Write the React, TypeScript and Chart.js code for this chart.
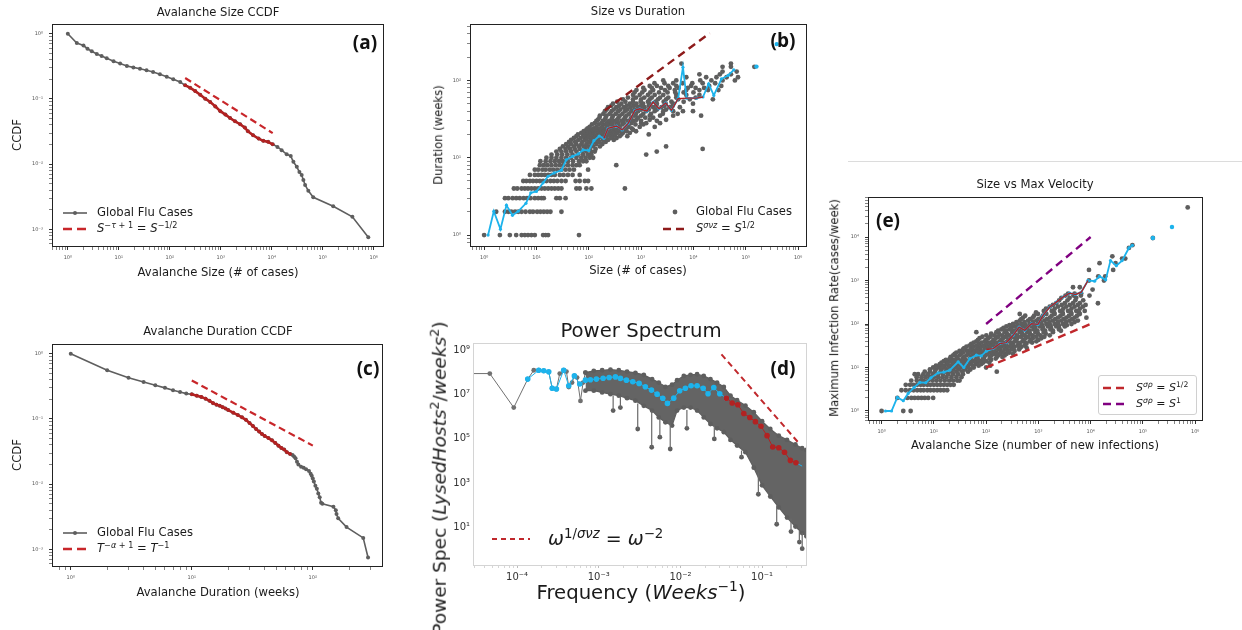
import React, { useEffect, useRef } from "react";
import { Chart, registerables } from "chart.js";

Chart.register(...registerables);

const FONT = "'DejaVu Sans', 'Liberation Sans', sans-serif";
const TAGFONT = "'Open Sans', 'Liberation Sans', sans-serif";
const GRAY = "#5e5e5e";
const BLUE = "#1db3ec";
const RED = "#b22222";
const DARKRED = "#8e1b1b";
const PURPLE = "#800080";

// ---------------- (a) Avalanche Size CCDF ----------------
const aHeadSize = [1, 1.5, 2.03, 2.43, 2.95, 3.7, 4.6, 5.8, 7.9, 10.6, 14.4, 19.3, 26, 35, 47, 64, 87, 117, 160];
const aHeadCcdf = [1, 0.72, 0.66, 0.59, 0.54, 0.49, 0.455, 0.42, 0.38, 0.35, 0.32, 0.305, 0.291, 0.275, 0.259, 0.239, 0.22, 0.2, 0.182];
const aFitSize = [200, 250, 315, 395, 495, 620, 780, 980, 1230, 1520, 1900, 2400, 2960, 3400, 4300, 5500, 6800, 8500, 10400];
const aFitCcdf = [0.162, 0.149, 0.132, 0.116, 0.101, 0.09, 0.077, 0.065, 0.0576, 0.051, 0.0455, 0.041, 0.0364, 0.032, 0.0278, 0.0247, 0.0228, 0.022, 0.0202];
const aTailSize = [12900, 15600, 19600, 23500, 26500, 30900, 34800, 38500, 41600, 45000, 52000, 65000, 160000, 380000, 780000];
const aTailCcdf = [0.0184, 0.0164, 0.0142, 0.0133, 0.0109, 0.0091, 0.0076, 0.0068, 0.0057, 0.0048, 0.0039, 0.0031, 0.00227, 0.00156, 0.00076];
const aGuideSize = [200, 10400];
const aGuideCcdf = [0.21, 0.03];

// ---------------- (b) Size vs Duration ----------------
const bRowDur = [1, 2, 3, 4, 5, 6, 7, 8, 9, 10, 11, 12, 13, 14, 15, 16, 17, 18, 19, 20, 21, 22, 23, 24, 25, 27, 28, 30, 31, 33, 35, 37, 40, 42, 45, 47, 50, 53, 57, 60, 65, 70, 75, 80, 85, 92, 100, 110, 120, 130, 150, 165];
const bRowSizes = [
  [1, 2, 3.1, 4.1, 5.2, 6, 6.9, 8, 9.3, 13.4, 15, 16.7, 65],
  [1.7, 2.5, 2.9, 3.3, 3.9, 4.5, 5.2, 6.2, 7.5, 8.6, 10.3, 11.9, 13.8, 16, 18.5, 30],
  [2.5, 2.9, 3.5, 4.1, 4.8, 5.7, 6.6, 7.7, 9.3, 10.8, 12.5, 13.8, 24, 28, 36],
  [3.7, 4.3, 5.2, 6, 6.9, 8, 9.3, 10.8, 12.5, 14.4, 16.7, 19.4, 22.4, 26, 30, 58, 67, 90, 112, 490],
  [5.6, 6.4, 7.5, 8.6, 10, 11.6, 13.4, 15.5, 18.5, 21.5, 25, 30, 36, 56, 67, 84, 97],
  [7.5, 9.3, 10.8, 12.5, 14.4, 16.7, 19.4, 22.4, 28, 33, 40, 49, 67],
  [9.3, 10.8, 13, 15, 18, 21, 25, 30, 36, 43, 52, 97],
  [11.6, 13.8, 16.2, 19.4, 23.4, 28, 33, 40, 49, 58, 67, 335],
  [11.9, 15, 18.5, 22.4, 27, 32, 40, 50, 65, 78, 90],
  [15.5, 19.4, 24, 30, 37, 46, 58, 72, 87, 104, 121],
  [19.4, 25, 31, 39, 49, 63, 78, 97, 112, 1250],
  [24, 30, 37, 46, 58, 76, 90, 112, 130, 1990],
  [28, 36, 44, 54, 67, 84, 104, 135, 15000],
  [32, 40, 52, 65, 80, 97, 121, 163, 3000],
  [37, 46, 58, 72, 90, 112, 140, 182],
  [42, 55, 75, 98, 125, 160, 210],
  [46, 63, 84, 108, 140, 188, 233, 300],
  [52, 70, 92, 120, 155, 200, 260, 340],
  [58, 78, 101, 130, 175, 218, 290, 390, 545],
  [62, 85, 110, 145, 190, 245, 320, 420, 1400],
  [72, 93, 121, 163, 203, 272, 350, 450, 610],
  [80, 105, 135, 180, 230, 300, 400, 530, 800],
  [90, 117, 150, 194, 252, 335, 465, 700],
  [95, 125, 165, 215, 280, 370, 500, 660],
  [104, 140, 182, 228, 290, 390, 570, 940, 1820],
  [115, 155, 205, 265, 340, 440, 580, 780, 1100],
  [130, 175, 225, 283, 364, 465, 650, 1000, 1250, 2300],
  [140, 185, 245, 320, 420, 550, 720, 1000, 2000],
  [150, 203, 272, 350, 465, 625, 815, 1460, 3000],
  [160, 210, 280, 370, 490, 650, 880, 1200, 1700],
  [163, 218, 290, 390, 525, 760, 1000, 1460, 2300, 4100, 14000],
  [190, 250, 330, 440, 590, 800, 1100, 1550, 2600, 5000],
  [203, 272, 364, 490, 650, 875, 1250, 1820, 2650, 4100, 6300, 9800],
  [220, 300, 400, 540, 740, 1000, 1400, 2000, 3000],
  [233, 335, 465, 625, 875, 1160, 1700, 2450, 3500, 5500],
  [270, 380, 530, 730, 1000, 1400, 1950, 2800, 4000],
  [290, 420, 610, 815, 1090, 1460, 2000, 2950, 4100, 9800],
  [350, 500, 700, 980, 1350, 1900, 2700, 3800, 6500],
  [450, 700, 1000, 1460, 2100, 3000, 5100, 8500, 23500],
  [560, 800, 1150, 1600, 2300, 3300, 4700, 11000],
  [700, 940, 1350, 1820, 2650, 4700, 7300, 13000],
  [750, 1050, 1500, 2200, 3200, 4500, 6500, 10000],
  [815, 1160, 1700, 2850, 4400, 7300, 13000, 19000, 30000],
  [1100, 1600, 2400, 3500, 5200, 7800, 11000, 16000],
  [1460, 2000, 3300, 4700, 9000, 20000, 34000],
  [1800, 2800, 4100, 6200, 9500, 15000, 26000],
  [2650, 4700, 13500, 22000, 36000, 62000],
  [7300, 17500, 27500, 43000, 71000],
  [13000, 32000, 52000],
  [36000, 67000],
  [36000, 52000, 146000],
  [5900, 52000],
];
const bBinSize = [1.19, 1.53, 2.05, 2.67, 3.48, 4.47, 6.3, 7.8, 10, 13.4, 16.7, 21.8, 30, 37, 49, 63, 78, 100, 125, 158, 194, 234, 338, 435, 565, 760, 940, 1290, 1700, 2200, 2950, 3800, 5100, 6300, 7400, 11500, 15200, 19500, 24500, 34300, 46000, 59000];
const bBinDur = [1, 2.03, 1.19, 2.43, 1.8, 2.03, 2.57, 3.52, 3.66, 4.73, 5.76, 6.35, 6.9, 9.4, 10.4, 11.2, 12.6, 12.4, 16.6, 19.1, 17.8, 24, 25.7, 22.9, 27.8, 41, 43, 40, 52.6, 43, 51, 41, 58, 148, 59, 59, 61, 90.6, 64, 105, 116, 137];
const bFitSize = [194, 234, 338, 435, 565, 760, 940, 1290, 1700, 2200, 2950, 3800, 5100, 7400, 11500, 15200];
const bFitDur = [17.8, 24, 25.7, 22.9, 27.8, 41, 43, 40, 52.6, 43, 51, 41, 58, 59, 59, 61];
const bLoneSize = [160000, 390000];
const bLoneDur = [151, 295];
const bGuideSize = [203, 20500];
const bGuideDur = [41, 408];

// ---------------- (c) Avalanche Duration CCDF ----------------
const cHeadDur = [1, 2, 3, 4, 5, 6, 7, 8, 9];
const cHeadCcdf = [1, 0.56, 0.43, 0.37, 0.33, 0.3, 0.275, 0.26, 0.245];
const cFitDur = [10, 11, 12, 13, 14, 15, 16, 17, 18, 19, 20, 22, 24, 26, 28, 30, 32, 34, 36, 38, 40, 43, 46, 49, 52, 55, 58, 61, 65];
const cFitCcdf = [0.24, 0.228, 0.218, 0.205, 0.19, 0.175, 0.166, 0.16, 0.152, 0.145, 0.137, 0.125, 0.115, 0.106, 0.097, 0.087, 0.078, 0.07, 0.064, 0.059, 0.055, 0.051, 0.047, 0.043, 0.039, 0.036, 0.034, 0.031, 0.029];
const cTailDur = [68, 70, 72, 74, 76, 80, 84, 88, 93, 96, 98, 100, 102, 105, 108, 111, 114, 117, 120, 148, 155, 157, 162, 190, 261, 286];
const cTailCcdf = [0.028, 0.0265, 0.025, 0.022, 0.02, 0.0185, 0.0178, 0.017, 0.016, 0.0145, 0.0135, 0.0122, 0.011, 0.0095, 0.0085, 0.0072, 0.0063, 0.0052, 0.005, 0.0045, 0.004, 0.0035, 0.003, 0.0022, 0.0015, 0.00075];
const cGuideDur = [10, 100];
const cGuideCcdf = [0.39, 0.039];

// ---------------- (d) Power Spectrum ----------------
const dSparseFreq = [2.5e-5, 4.63e-5, 9.1e-5, 1.35e-4, 1.6e-4, 1.84e-4, 2.12e-4, 2.44e-4, 2.69e-4, 3.03e-4, 3.33e-4, 3.72e-4, 4.02e-4, 4.29e-4, 4.71e-4, 5.03e-4, 5.43e-4, 5.97e-4, 6.43e-4, 6.87e-4];
const dSparsePow = [8.9e7, 8.9e7, 2.6e6, 5e7, 1.26e8, 1.26e8, 1.17e8, 1.07e8, 1.96e7, 1.78e7, 8.9e7, 1.26e8, 1.1e8, 2.2e7, 3.5e7, 7e7, 5.9e7, 5.2e6, 3.5e7, 9.9e7];
const dBandFreq = [6.87e-4, 8.69e-4, 1.1e-3, 1.39e-3, 1.76e-3, 2.22e-3, 2.81e-3, 3.56e-3, 4.5e-3, 5.43e-3, 6.55e-3, 7.9e-3, 9.1e-3, 1.1e-2, 1.33e-2, 1.6e-2, 1.93e-2, 2.33e-2, 2.81e-2, 3.4e-2, 4.1e-2, 4.94e-2, 6.25e-2, 7.91e-2, 0.1, 0.126, 0.16, 0.202, 0.256, 0.309, 0.349];
const dBandHigh = [9.9e7, 1.18e8, 1.26e8, 1.35e8, 1.26e8, 1.1e8, 9.6e7, 7.8e7, 5e7, 3.5e7, 2.25e7, 2.8e7, 4.5e7, 7e7, 7.8e7, 8.3e7, 7e7, 5e7, 3.5e7, 2.2e7, 9e6, 5.6e6, 3.2e6, 1.6e6, 6.3e5, 2.8e5, 1.4e5, 9e4, 5.6e4, 3.8e4, 3.2e4];
const dBandLow = [1.5e7, 1.5e7, 1.25e7, 1.05e7, 8.9e6, 6.9e6, 5.3e6, 3.1e6, 1.9e6, 9.3e5, 5.6e5, 4e5, 1.9e6, 2.6e6, 2.6e6, 1.9e6, 9.3e5, 4.7e5, 3e5, 2e5, 9e4, 5e4, 2.5e4, 5e3, 800, 250, 80, 28, 11, 5.6, 4];
const dSpikeFreq = [1.5e-3, 1.84e-3, 3.0e-3, 4.45e-3, 5.6e-3, 7.5e-3, 1.2e-2, 2.6e-2, 5.6e-2, 9.0e-2, 0.151, 0.226, 0.286, 0.31];
const dSpikeBase = [9e6, 8e6, 4e6, 1.8e6, 8e5, 5e5, 2e6, 4e5, 3e4, 3e3, 100, 25, 7, 5.5];
const dSpikeTip = [1.9e6, 2.6e6, 2.8e5, 4.2e4, 1.2e5, 3.5e4, 3e5, 1e5, 1.5e4, 316, 14, 6.5, 2.2, 1.1];
const dBinFreq = [1.35e-4, 1.84e-4, 2.12e-4, 2.44e-4, 2.69e-4, 3.03e-4, 3.72e-4, 4.29e-4, 5.03e-4, 5.85e-4, 6.87e-4, 7.9e-4, 9.35e-4, 1.13e-3, 1.34e-3, 1.6e-3, 1.84e-3, 2.18e-3, 2.61e-3, 3.12e-3, 3.72e-3, 4.42e-3, 5.18e-3, 6.08e-3, 6.93e-3, 8.28e-3, 9.8e-3, 1.15e-2, 1.35e-2, 1.6e-2, 1.9e-2, 2.18e-2, 2.56e-2, 3.03e-2, 3.66e-2];
const dBinPow = [5e7, 1.26e8, 1.2e8, 1.07e8, 1.95e7, 1.78e7, 1.26e8, 2.5e7, 7e7, 3e7, 4.5e7, 4.7e7, 5e7, 5.5e7, 5.9e7, 6.3e7, 5.4e7, 4.5e7, 3.8e7, 3.2e7, 2.25e7, 1.6e7, 1.05e7, 6.8e6, 4e6, 6.9e6, 1.5e7, 1.95e7, 2.5e7, 2.5e7, 1.95e7, 1.1e7, 2.1e7, 1.1e7, 6.9e6];
const dFitFreq = [3.66e-2, 4.3e-2, 5.04e-2, 5.97e-2, 7.07e-2, 8.28e-2, 9.7e-2, 0.115, 0.135, 0.16, 0.188, 0.222, 0.26];
const dFitPow = [6.9e6, 4.2e6, 3.5e6, 1.4e6, 9.3e5, 6e5, 3.7e5, 1.4e5, 4.3e4, 4e4, 2.5e4, 1.07e4, 8.3e3];
const dEndFreq = [0.26, 0.309];
const dEndPow = [8.3e3, 5.9e3];
const dGuideFreq = [3.18e-2, 0.281];
const dGuidePow = [6.6e8, 6.5e4];

// ---------------- (e) Size vs Max Velocity ----------------
const eRowRate = [1, 2, 3, 4, 5, 6, 7, 8, 9, 10, 11, 12, 13, 14, 15, 16, 17.5, 19, 20.5, 22, 24, 26, 28, 30, 32, 35, 37.5, 40, 43, 47, 51, 55, 60, 65, 70, 75, 81, 88, 94, 100, 110, 120, 130, 140, 155, 170, 185, 200, 225, 250, 275, 300, 350, 400, 450, 500, 620, 700, 1000, 1250, 1750, 2500, 3200, 3600, 5600, 6500, 9500, 48000];
const eRowSizes = [
  [1, 2.6, 3.6],
  [2, 3.1, 3.7, 4.3, 5, 5.8, 6.7, 7.8, 9.7],
  [2.4, 2.9, 3.5, 4.1, 4.8, 5.6, 6.4, 7.5, 8.6, 10, 11.6, 13.4, 15.5, 18],
  [2.9, 3.5, 4.1, 4.8, 5.6, 6.4, 7.5, 8.6, 10, 11.6, 13.4, 15.5, 18, 20.8, 24],
  [3.7, 4.7, 5.6, 6.4, 7.8, 9.4, 11.2, 13.4, 16.2, 19.6, 23.4, 28, 31],
  [4.7, 5.8, 7, 8.4, 10, 12.1, 14.6, 17.4, 21.7, 27, 33.7],
  [4.3, 5, 6.3, 7.8, 9.7, 12.1, 15, 18.8, 23.4, 29.2, 36],
  [6.7, 8.4, 10.4, 13.4, 16.9, 21.7, 27, 35, 45, 160],
  [8.4, 10.9, 14, 18, 23.4, 30.4, 39, 50],
  [9.7, 12.6, 16.2, 20.8, 27, 35, 45, 58, 100],
  [11, 15, 19.5, 25, 32, 42, 55, 72, 120],
  [13, 17.4, 22.7, 29, 37.4, 48.7, 63, 81],
  [14, 18.5, 24, 31, 40, 52, 68, 88, 115],
  [15.5, 20.2, 27, 35, 47, 61, 78, 101],
  [17, 23, 30, 40, 53, 70, 92, 125],
  [20.2, 27, 36, 48.7, 65, 87, 117, 153],
  [21, 28, 38, 51, 68, 91, 120, 160, 205],
  [23.4, 31.4, 42, 56, 73, 98, 126, 170, 226],
  [25, 33, 45, 60, 80, 105, 140, 185, 245, 330],
  [27, 36, 50, 67, 90, 121, 157, 210, 280],
  [31, 43, 58, 79, 106, 142, 190, 255, 350],
  [36, 50, 67, 94, 126, 170, 226, 302, 428],
  [38, 53, 72, 98, 132, 178, 238, 320, 440, 600],
  [42, 58, 81, 109, 146, 196, 262, 352, 472],
  [48, 66, 90, 122, 165, 222, 300, 405, 545],
  [52, 73, 101, 136, 182, 244, 328, 440, 590],
  [58, 82, 114, 158, 218, 300, 410, 560, 760],
  [65, 94, 132, 182, 253, 352, 494, 680, 915],
  [70, 100, 140, 195, 270, 372, 520, 720, 1000],
  [75, 109, 153, 210, 292, 394, 570, 780, 1140],
  [85, 122, 172, 240, 335, 465, 650, 920, 1300],
  [101, 146, 204, 280, 390, 550, 780, 1100, 1650],
  [125, 178, 250, 350, 490, 690, 980, 1380],
  [65, 157, 226, 316, 440, 610, 880, 1270, 1900],
  [170, 240, 340, 480, 680, 960, 1350, 1900, 2700],
  [196, 280, 394, 570, 810, 1200, 1700, 2480],
  [215, 300, 430, 610, 870, 1230, 1750, 2500],
  [244, 352, 510, 735, 1060, 1530, 2200, 3200],
  [280, 400, 570, 820, 1180, 1700, 2450, 3500],
  [328, 472, 680, 980, 1420, 2050, 2950, 4300],
  [380, 540, 780, 1120, 1620, 2350, 3400, 4900],
  [440, 635, 915, 1320, 1900, 2750, 3960, 5700],
  [470, 690, 1000, 1450, 2100, 3050, 4400],
  [510, 780, 1140, 1650, 2380, 3420, 4930, 8300],
  [560, 830, 1220, 1800, 2650, 3850, 5500],
  [440, 980, 1420, 2050, 2950, 4300, 6200],
  [900, 1350, 2000, 2900, 4200, 6000],
  [1270, 1800, 2600, 3700, 5300, 7700],
  [1400, 2050, 3000, 4300, 6200],
  [1650, 2380, 3420, 4930, 7100],
  [1900, 2800, 4000, 5700, 8000],
  [2200, 3200, 4600, 6200, 13800],
  [2500, 3600, 5100, 7200],
  [2750, 3960, 5300],
  [3300, 4700, 6500, 9500],
  [3700, 4930, 6600],
  [10900],
  [4600, 6200],
  [9300, 18000],
  [14000, 19000],
  [9300, 27000],
  [14800, 30000],
  [40000, 46000],
  [26000],
  [54000],
  [63000],
  [155000],
  [720000],
];
const eBinSize = [1.19, 1.55, 2.0, 2.6, 3.23, 4.2, 5.4, 7.0, 8.8, 12.1, 15.5, 20.2, 29.2, 37.4, 48.7, 65, 81, 101, 136, 182, 244, 328, 428, 549, 735, 980, 1230, 1650, 2210, 2950, 3960, 5150, 6630, 8900, 11900, 14800, 19400, 24000, 31000, 40000, 54000, 63000];
const eBinRate = [1, 1, 2.06, 1.72, 2.54, 3.48, 4.53, 4.46, 5.8, 7.55, 7.8, 8.7, 13.5, 10, 16, 19.2, 18.5, 23.7, 27.2, 35.4, 37.4, 55, 85, 71.6, 101, 98, 158, 246, 318, 415, 512, 478, 540, 1000, 966, 1240, 1036, 2870, 2190, 2870, 5600, 6450];
const eFitSize = [101, 136, 182, 244, 328, 428, 549, 735, 980, 1230, 1650, 2210, 2950, 3960, 5150, 6630, 8900];
const eFitRate = [25.9, 27.2, 35.4, 37.4, 55, 85, 71.6, 101, 98, 158, 246, 318, 415, 512, 478, 540, 1000];
const eLoneSize = [155000, 360000];
const eLoneRate = [9500, 17000];
const eHalfSize = [100, 10000];
const eHalfRate = [10, 100];
const eOneSize = [100, 10000];
const eOneRate = [100, 10000];

// ---------------- helpers ----------------
const PADL = 46, PADT = 8, PADR = 8, PADB = 24;

const SUPS: Record<string, string> = { "0": "⁰", "1": "¹", "2": "²", "3": "³", "4": "⁴", "5": "⁵", "6": "⁶", "7": "⁷", "8": "⁸", "9": "⁹", "-": "⁻" };
const supStr = (n: number) => String(n).split("").map((c) => SUPS[c] || c).join("");

const pts = (xs: number[], ys: number[]) => xs.map((x, i) => ({ x, y: ys[i] }));
const rows = (ys: number[], xss: number[][]) => ys.flatMap((y, i) => (xss[i] || []).map((x) => ({ x, y })));

function logTicks(min: number, max: number, minors: boolean) {
  const out: any[] = [];
  for (let e = Math.floor(Math.log10(min)); e <= Math.ceil(Math.log10(max)); e++) {
    for (let m = 1; m <= 9; m++) {
      if (m > 1 && !minors) break;
      const v = m * Math.pow(10, e);
      if (v >= min && v <= max) out.push({ value: v, major: m === 1 });
    }
  }
  return out;
}

type AxisStyle = { size: number; color: string; tickLen: number; pad: number; minors: boolean; show?: (e: number) => boolean; tickColor: string };

function axis(kind: "x" | "y", range: number[], st: AxisStyle) {
  const list = logTicks(range[0], range[1], st.minors);
  return {
    type: "logarithmic",
    position: kind === "x" ? "bottom" : "left",
    min: range[0],
    max: range[1],
    afterBuildTicks: (s: any) => {
      s.ticks = list.map((t) => ({ ...t }));
    },
    afterFit: (s: any) => {
      if (kind === "x") s.height = PADB;
      else s.width = PADL;
    },
    ticks: {
      autoSkip: false,
      maxRotation: 0,
      minRotation: 0,
      padding: st.pad,
      color: st.color,
      font: { family: FONT, size: st.size },
      callback: (v: number, i: number, ts: any[]) => {
        if (!ts[i] || !ts[i].major) return "";
        const e = Math.round(Math.log10(v));
        if (st.show && !st.show(e)) return "";
        return "10" + supStr(e);
      },
    },
    grid: {
      display: true,
      drawOnChartArea: false,
      drawTicks: true,
      tickLength: st.tickLen,
      tickColor: st.tickColor,
      tickWidth: (c: any) => (c.tick && c.tick.major ? 1 : 0.6),
    },
    border: { display: false },
  };
}

const framePlugin = (color: string) => ({
  id: "frame",
  afterDatasetsDraw(chart: any) {
    const { ctx, chartArea: a } = chart;
    ctx.save();
    ctx.strokeStyle = color;
    ctx.lineWidth = 1;
    ctx.strokeRect(Math.round(a.left) + 0.5, Math.round(a.top) + 0.5, Math.round(a.right - a.left) - 1, Math.round(a.bottom - a.top) - 1);
    ctx.restore();
  },
});

const lineDs = (data: any[], color: string, lw: number, r: number, extra: any = {}) => ({
  data, showLine: true, borderColor: color, backgroundColor: color, borderWidth: lw,
  pointRadius: r, pointHoverRadius: r, pointBorderWidth: 0, pointBackgroundColor: color, tension: 0, fill: false, ...extra,
});
const dotDs = (data: any[], color: string, r: number) => ({
  data, showLine: false, borderColor: color, backgroundColor: color, pointRadius: r, pointHoverRadius: r,
  pointBorderWidth: 0, pointBackgroundColor: color, fill: false,
});
const dashDs = (data: any[], color: string, lw: number, dash: number[]) => ({
  data, showLine: true, borderColor: color, backgroundColor: color, borderWidth: lw, borderDash: dash, pointRadius: 0, fill: false, tension: 0,
});

const smallAxis: AxisStyle = { size: 5, color: "#555", tickLen: 3, pad: 5, minors: true, tickColor: "#333" };

function makeConfig(datasets: any[], xr: number[], yr: number[], xs: AxisStyle, ys: AxisStyle, frame: string) {
  return {
    type: "line",
    data: { datasets },
    options: {
      animation: false,
      responsive: false,
      devicePixelRatio: 1,
      events: [],
      layout: { padding: { top: PADT, right: PADR, left: 0, bottom: 0 } },
      plugins: { legend: { display: false }, tooltip: { enabled: false }, title: { display: false } },
      scales: { x: axis("x", xr, xs), y: axis("y", yr, ys) },
    },
    plugins: [framePlugin(frame)],
  };
}

type Box = { l: number; t: number; r: number; b: number };

function ChartBox({ box, make }: { box: Box; make: () => any }) {
  const ref = useRef<HTMLCanvasElement>(null);
  const w = box.r - box.l + PADL + PADR;
  const h = box.b - box.t + PADT + PADB;
  useEffect(() => {
    const chart = new Chart(ref.current as HTMLCanvasElement, make());
    return () => chart.destroy();
  }, []);
  return (
    <canvas
      ref={ref}
      width={w}
      height={h}
      style={{ position: "absolute", left: box.l - PADL, top: box.t - PADT, width: w, height: h }}
    />
  );
}

function T({ x, y, s, children, rot, left, bold, family, color }: any) {
  const tr = left ? "translate(0,-50%)" : "translate(-50%,-50%)";
  return (
    <div
      style={{
        position: "absolute", left: x, top: y, transform: tr + (rot ? " rotate(-90deg)" : ""),
        fontSize: s, fontFamily: family || FONT, fontWeight: bold ? 700 : 400, whiteSpace: "nowrap",
        lineHeight: 1, color: color || "#1a1a1a",
      }}
    >
      {children}
    </div>
  );
}

const Sup = ({ children }: any) => (
  <span style={{ fontSize: "0.7em", position: "relative", top: "-0.55em" }}>{children}</span>
);

function Sample({ x, y, w, color, lw, dash, dot, noLine }: any) {
  return (
    <svg style={{ position: "absolute", left: x, top: y - 6, overflow: "visible" }} width={w} height={12}>
      {!noLine && <line x1={0} y1={6} x2={w} y2={6} stroke={color} strokeWidth={lw} strokeDasharray={dash} />}
      {dot ? <circle cx={w / 2} cy={6} r={dot} fill={color} /> : null}
    </svg>
  );
}

// ---------------- panels ----------------
const A_BOX = { l: 52, t: 23, r: 384, b: 247 };
const B_BOX = { l: 470, t: 23, r: 807, b: 247 };
const C_BOX = { l: 52, t: 343, r: 383, b: 567 };
const D_BOX = { l: 473, t: 342, r: 807, b: 566 };
const E_BOX = { l: 868, t: 196, r: 1203, b: 421 };

const makeA = () =>
  makeConfig(
    [
      dashDs(pts(aGuideSize, aGuideCcdf), "#c8262a", 2.2, [7, 4]),
      lineDs(pts(aFitSize, aFitCcdf), RED, 2.6, 1.8),
      lineDs(pts([...aHeadSize, ...aFitSize, ...aTailSize], [...aHeadCcdf, ...aFitCcdf, ...aTailCcdf]), GRAY, 1.6, 2),
    ],
    [Math.pow(10, -0.31), Math.pow(10, 6.2)],
    [Math.pow(10, -3.27), Math.pow(10, 0.15)],
    smallAxis,
    { ...smallAxis, pad: 6 },
    "#222"
  );

const makeB = () =>
  makeConfig(
    [
      dashDs(pts(bGuideSize, bGuideDur), DARKRED, 2.4, [8, 5]),
      lineDs(pts(bFitSize, bFitDur), RED, 1.4, 0),
      lineDs(pts(bBinSize, bBinDur), BLUE, 1.8, 1.6),
      dotDs(pts(bLoneSize, bLoneDur), BLUE, 2.2),
      dotDs(rows(bRowDur, bRowSizes), GRAY, 2.4),
    ],
    [Math.pow(10, -0.27), Math.pow(10, 6.17)],
    [Math.pow(10, -0.14), Math.pow(10, 2.73)],
    smallAxis,
    { ...smallAxis, pad: 6 },
    "#222"
  );

const makeC = () =>
  makeConfig(
    [
      dashDs(pts(cGuideDur, cGuideCcdf), "#c8262a", 2.2, [7, 4]),
      lineDs(pts(cFitDur, cFitCcdf), RED, 2.6, 1.8),
      lineDs(pts([...cHeadDur, ...cFitDur, ...cTailDur], [...cHeadCcdf, ...cFitCcdf, ...cTailCcdf]), GRAY, 1.6, 2),
    ],
    [Math.pow(10, -0.13), Math.pow(10, 2.58)],
    [Math.pow(10, -3.27), Math.pow(10, 0.15)],
    smallAxis,
    { ...smallAxis, pad: 6 },
    "#222"
  );

const makeD = () => {
  const spikes: any[] = [];
  dSpikeFreq.forEach((f, i) => {
    spikes.push({ x: f, y: dSpikeBase[i] }, { x: f, y: dSpikeTip[i] }, { x: f, y: null });
  });
  return makeConfig(
    [
      dashDs(pts(dGuideFreq, dGuidePow), "#c0282c", 2, [6, 4]),
      lineDs(pts(dFitFreq, dFitPow), RED, 1, 2.8),
      lineDs(pts(dEndFreq, dEndPow), BLUE, 1, 0),
      lineDs(pts(dBinFreq, dBinPow), BLUE, 1, 2.8),
      lineDs(spikes, "#6a6a6a", 1.2, 0, { spanGaps: false }),
      dotDs(pts(dSpikeFreq, dSpikeTip), GRAY, 2.4),
      lineDs(pts(dBandFreq, dBandHigh), GRAY, 1.2, 2.4),
      lineDs(pts(dBandFreq, dBandLow), GRAY, 1.2, 2.4, { fill: { target: 6 }, backgroundColor: "#646464" }),
      lineDs(pts(dSparseFreq, dSparsePow), "#707070", 1, 2.4, { clip: 0 }),
    ],
    [Math.pow(10, -4.54), Math.pow(10, -0.45)],
    [Math.pow(10, -0.74), Math.pow(10, 9.33)],
    { size: 10, color: "#333", tickLen: 2, pad: 3, minors: true, tickColor: "#bbb" },
    { size: 10, color: "#333", tickLen: 0, pad: 3, minors: false, show: (e: number) => e % 2 === 1, tickColor: "#bbb" },
    "#d4d4d4"
  );
};

const makeE = () =>
  makeConfig(
    [
      dashDs(pts(eOneSize, eOneRate), PURPLE, 2.4, [8, 5]),
      dashDs(pts(eHalfSize, eHalfRate), "#c0282c", 2.4, [8, 5]),
      lineDs(pts(eFitSize, eFitRate), RED, 1.4, 0),
      lineDs(pts(eBinSize, eBinRate), BLUE, 1.8, 1.6),
      dotDs(pts(eLoneSize, eLoneRate), BLUE, 2.2),
      dotDs(rows(eRowRate, eRowSizes), GRAY, 2.4),
    ],
    [Math.pow(10, -0.26), Math.pow(10, 6.15)],
    [Math.pow(10, -0.23), Math.pow(10, 4.92)],
    smallAxis,
    { ...smallAxis, pad: 6 },
    "#222"
  );

const LEG = 11.6;

export default function App() {
  return (
    <div
      style={{
        position: "absolute", left: 0, top: 0, width: 1242, height: 630, background: "#fff",
        overflow: "hidden", fontFamily: FONT,
      }}
    >
      <ChartBox box={A_BOX} make={makeA} />
      <ChartBox box={B_BOX} make={makeB} />
      <ChartBox box={C_BOX} make={makeC} />
      <ChartBox box={D_BOX} make={makeD} />
      <ChartBox box={E_BOX} make={makeE} />

      {/* (a) */}
      <T x={218} y={13} s={11.6}>Avalanche Size CCDF</T>
      <T x={218} y={273} s={11.6}>Avalanche Size (# of cases)</T>
      <T x={18} y={135} s={11.6} rot>CCDF</T>
      <T x={365} y={42} s={19} bold family={TAGFONT} color="#111">(a)</T>
      <Sample x={63} y={213} w={24} color={GRAY} lw={1.6} dot={2} />
      <T x={97} y={213} s={LEG} left>Global Flu Cases</T>
      <Sample x={63} y={229} w={24} color="#c8262a" lw={2.6} dash="9,5" />
      <T x={97} y={229} s={LEG} left>
        <i>S</i><Sup>−<i>τ</i> + 1</Sup> = <i>S</i><Sup>−1/2</Sup>
      </T>

      {/* (b) */}
      <T x={638} y={12} s={11.6}>Size vs Duration</T>
      <T x={638} y={271} s={11.6}>Size (# of cases)</T>
      <T x={439} y={135} s={11.6} rot>Duration (weeks)</T>
      <T x={783} y={40} s={19} bold family={TAGFONT} color="#111">(b)</T>
      <Sample x={665} y={212} w={20} color={GRAY} lw={0} dot={2.4} noLine />
      <T x={696} y={212} s={LEG} left>Global Flu Cases</T>
      <Sample x={663} y={229} w={21} color={DARKRED} lw={2.6} dash="8,5" />
      <T x={696} y={229} s={LEG} left>
        <i>S</i><Sup><i>σνz</i></Sup> = <i>S</i><Sup>1/2</Sup>
      </T>

      {/* (c) */}
      <T x={218} y={332} s={11.6}>Avalanche Duration CCDF</T>
      <T x={218} y={593} s={11.6}>Avalanche Duration (weeks)</T>
      <T x={18} y={455} s={11.6} rot>CCDF</T>
      <T x={368} y={368} s={19} bold family={TAGFONT} color="#111">(c)</T>
      <Sample x={63} y={533} w={24} color={GRAY} lw={1.6} dot={2} />
      <T x={97} y={533} s={LEG} left>Global Flu Cases</T>
      <Sample x={63} y={549} w={24} color="#c8262a" lw={2.6} dash="9,5" />
      <T x={97} y={549} s={LEG} left>
        <i>T</i><Sup>−<i>α</i> + 1</Sup> = <i>T</i><Sup>−1</Sup>
      </T>

      {/* (d) */}
      <T x={641} y={331} s={19.7}>Power Spectrum</T>
      <T x={641} y={593} s={19.7}>
        Frequency (<i>Weeks</i><Sup>−1</Sup>)
      </T>
      <T x={440} y={478} s={18.5} rot>
        Power Spec (<i>LysedHosts</i><Sup>2</Sup>/<i>weeks</i><Sup>2</Sup>)
      </T>
      <T x={783} y={368} s={19} bold family={TAGFONT} color="#111">(d)</T>
      <Sample x={492} y={539} w={38} color="#c0282c" lw={2} dash="5,4" />
      <T x={548} y={538} s={19} left>
        <i>ω</i><Sup>1/<i>σνz</i></Sup> = <i>ω</i><Sup>−2</Sup>
      </T>

      {/* (e) */}
      <div style={{ position: "absolute", left: 848, top: 161, width: 394, height: 1, background: "#dcdcdc" }} />
      <T x={1035} y={185} s={11.6}>Size vs Max Velocity</T>
      <T x={1035} y={446} s={11.6}>Avalanche Size (number of new infections)</T>
      <T x={835} y={308} s={11.6} rot>Maximum Infection Rate(cases/week)</T>
      <T x={888} y={220} s={19} bold family={TAGFONT} color="#111">(e)</T>
      <div
        style={{
          position: "absolute", left: 1098, top: 375, width: 99, height: 40, border: "1px solid #d0d0d0",
          borderRadius: 3, background: "rgba(255,255,255,0.85)", boxSizing: "border-box",
        }}
      />
      <Sample x={1103} y={388} w={21} color="#c0282c" lw={2.6} dash="8,5" />
      <T x={1136} y={387} s={11} left>
        <i>S</i><Sup><i>σρ</i></Sup> = <i>S</i><Sup>1/2</Sup>
      </T>
      <Sample x={1103} y={404} w={21} color={PURPLE} lw={2.6} dash="8,5" />
      <T x={1136} y={403} s={11} left>
        <i>S</i><Sup><i>σρ</i></Sup> = <i>S</i><Sup>1</Sup>
      </T>
    </div>
  );
}
